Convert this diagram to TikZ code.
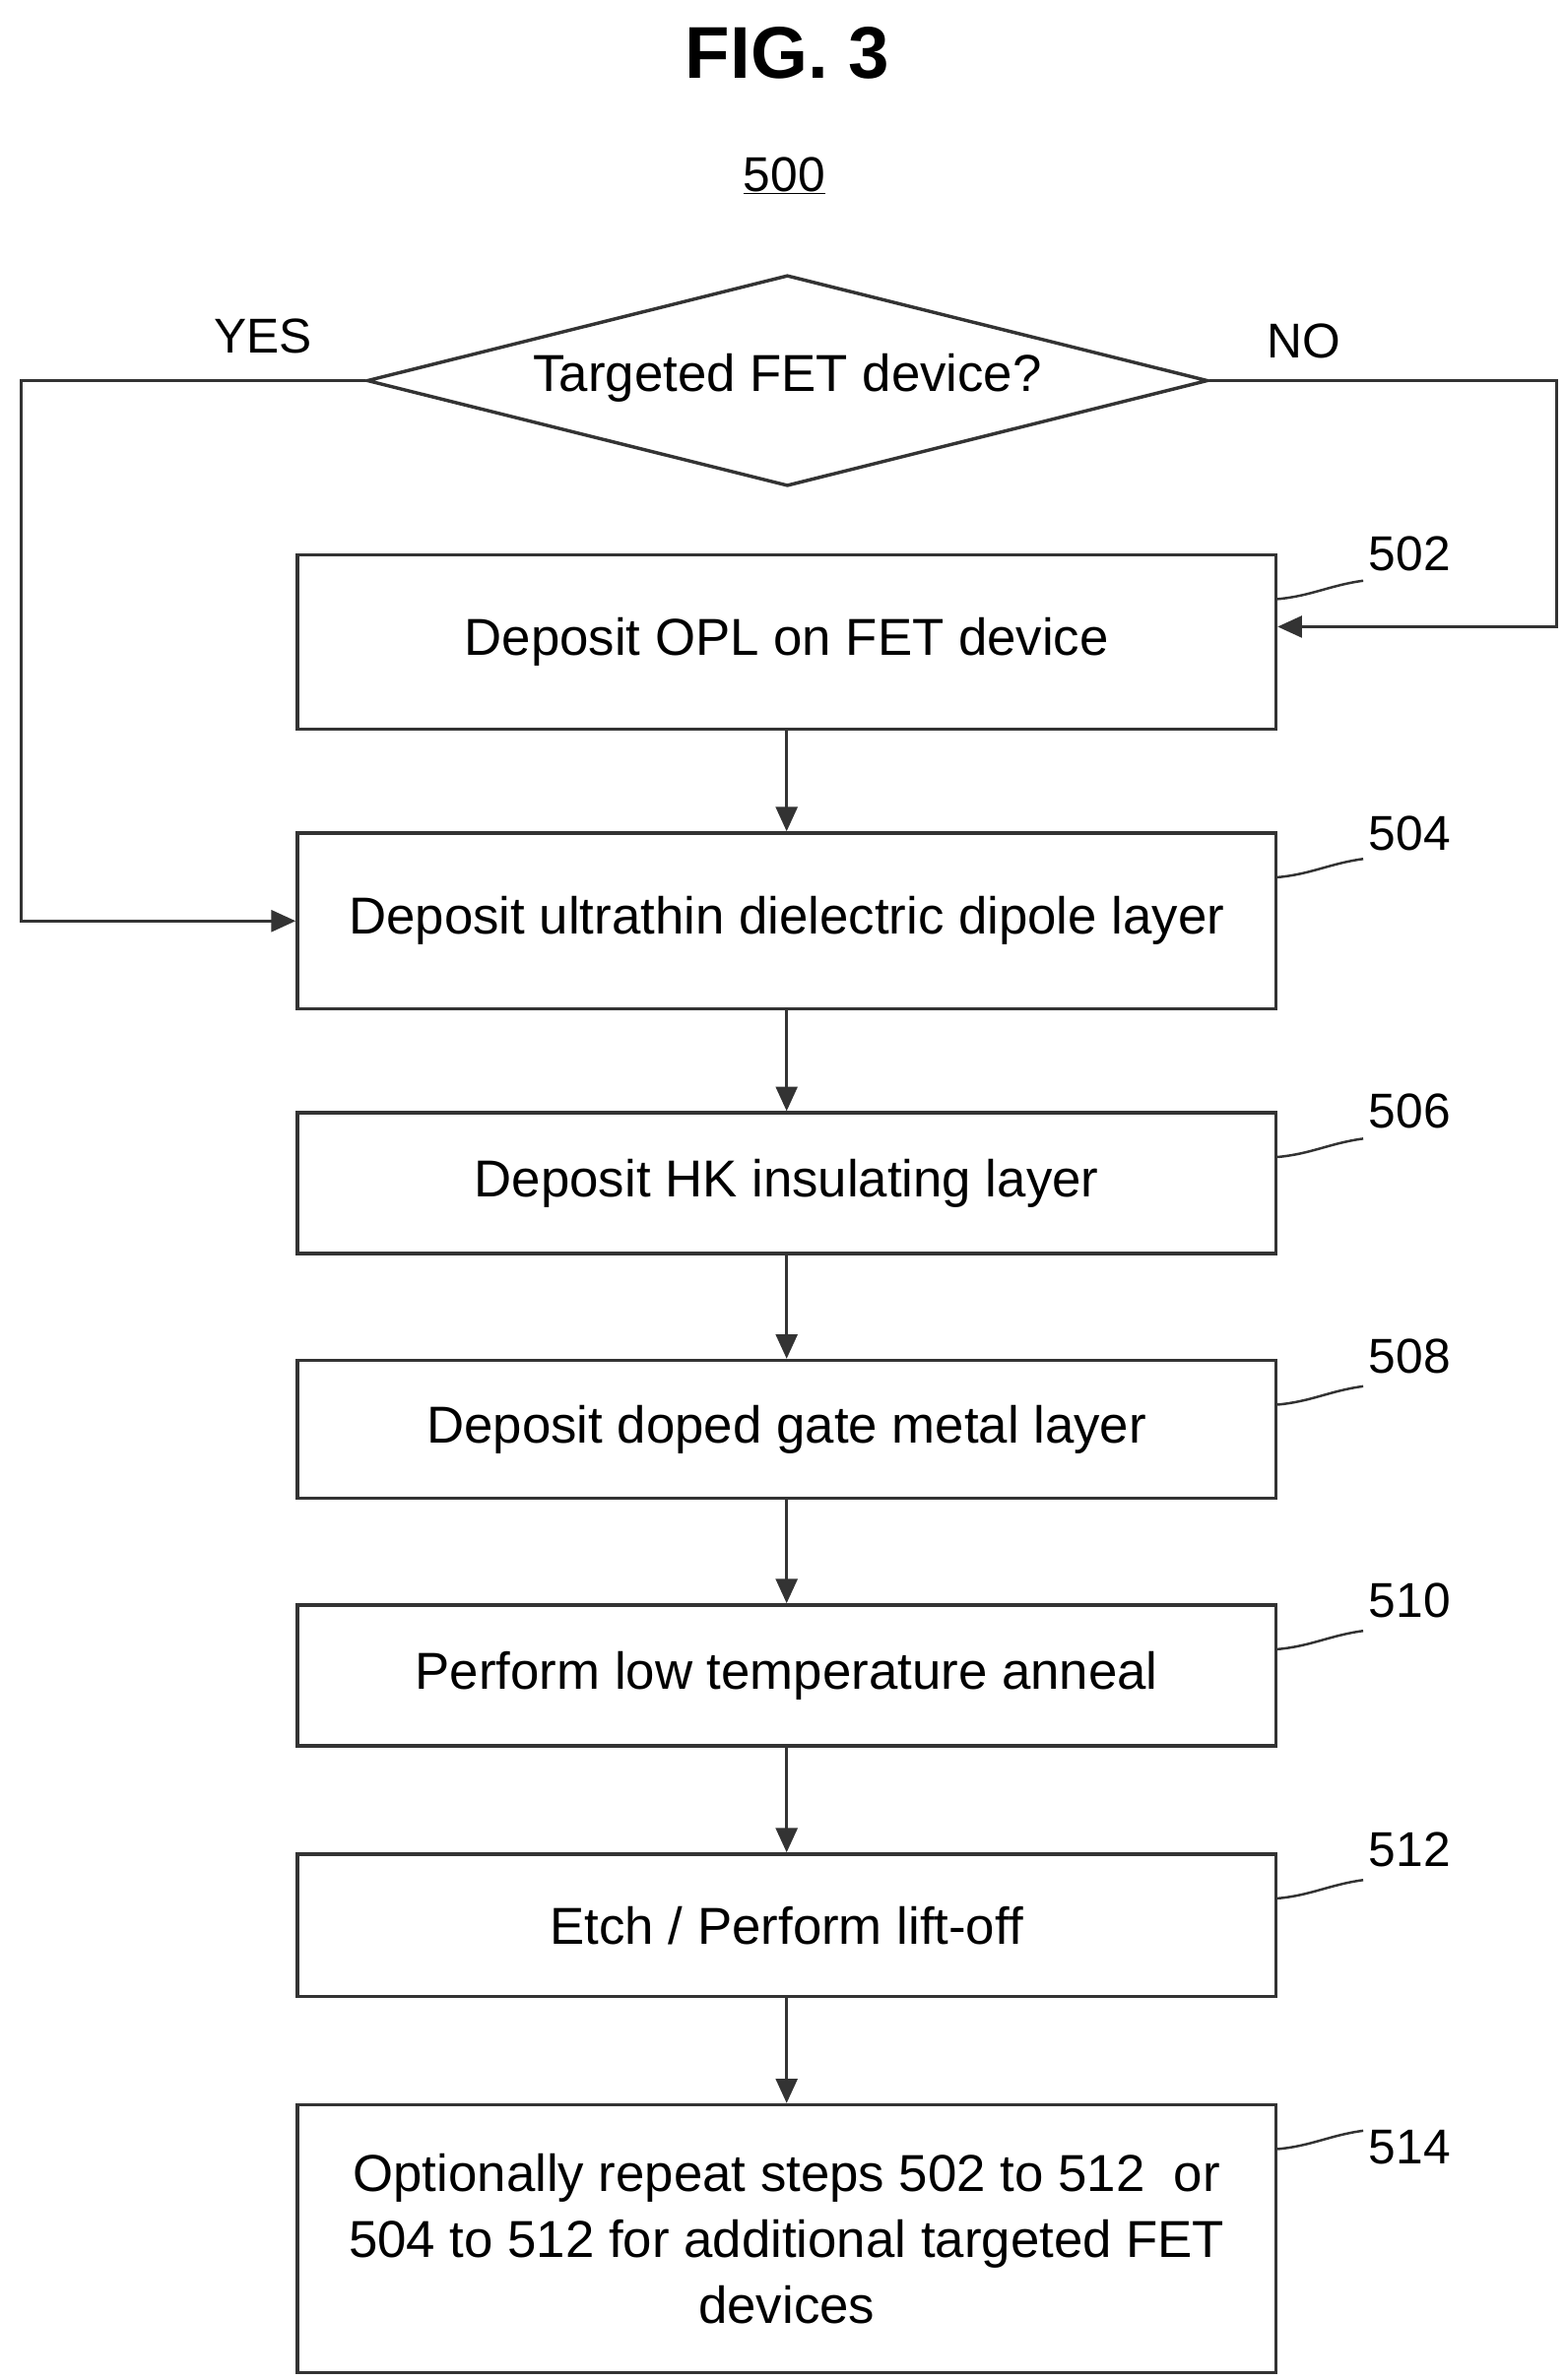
\documentclass[tikz,border=0pt]{standalone}
\usepackage{fontspec}
\setmainfont{Liberation Sans}
\usetikzlibrary{shapes.geometric,arrows.meta}
\begin{document}
\begin{tikzpicture}[x=1pt,y=-1pt,
  ln/.style={draw=black!80,line width=2.2pt},
  box/.style={ln,rectangle,minimum width=640pt,inner sep=0pt,align=center,font=\fontsize{34}{43}\selectfont},
  arr/.style={ln,-{Triangle[length=16pt,width=14pt]}},
  lab/.style={font=\fontsize{32}{36}\selectfont},
  sq/.style={draw=black!80,line width=1.6pt}]
\useasboundingbox (0,0) rectangle (1024,1557);
\node[font=\bfseries\fontsize{48}{50}\selectfont] (title) at (515,35) {FIG. 3};
\node[font=\fontsize{32}{36}\selectfont] (n500) at (513,115) {\underline{500}};
\node[ln,diamond,aspect=4,minimum width=550pt,minimum height=138pt,inner sep=0pt] (d) at (515,249) {};
\node[font=\fontsize{34}{36}\selectfont] at (515,247) {Targeted FET device?};
\node[lab] (yes) at (172,220) {YES};
\node[lab] (no) at (853,223) {NO};
\node[box,minimum height=114pt] (b502) at (514.5,420) {Deposit OPL on FET device};
\node[box,minimum height=115pt] (b504) at (514.5,602.5) {Deposit ultrathin dielectric dipole layer};
\node[box,minimum height=92pt] (b506) at (514.5,774) {Deposit HK insulating layer};
\node[box,minimum height=90pt] (b508) at (514.5,935) {Deposit doped gate metal layer};
\node[box,minimum height=92pt] (b510) at (514.5,1096) {Perform low temperature anneal};
\node[box,minimum height=93pt] (b512) at (514.5,1259.5) {Etch / Perform lift-off};
\node[box,minimum height=175pt] (b514) at (514.5,1464.5) {Optionally repeat steps 502 to 512~ or\\504 to 512 for additional targeted FET\\devices};
\coordinate (cl) at (14,249);
\coordinate (cr) at (1018,249);
\draw[arr] (d.west) -- (cl) |- (b504.west);
\draw[arr] (d.east) -- (cr) |- ([yshift=10pt]b502.east);
\draw[arr] (b502) -- (b504);
\draw[arr] (b504) -- (b506);
\draw[arr] (b506) -- (b508);
\draw[arr] (b508) -- (b510);
\draw[arr] (b510) -- (b512);
\draw[arr] (b512) -- (b514);
\foreach \b/\t/\ly in {b502/502/362,b504/504/545,b506/506/727,b508/508/887,b510/510/1047,b512/512/1210,b514/514/1405}{
  \node[lab] (l\t) at (922,\ly) {\t};
  \draw[sq] (\b.north east) ++(0,30) .. controls +(22,-2) and +(-22,3) .. ++(56,-12);
}
\end{tikzpicture}
\end{document}
